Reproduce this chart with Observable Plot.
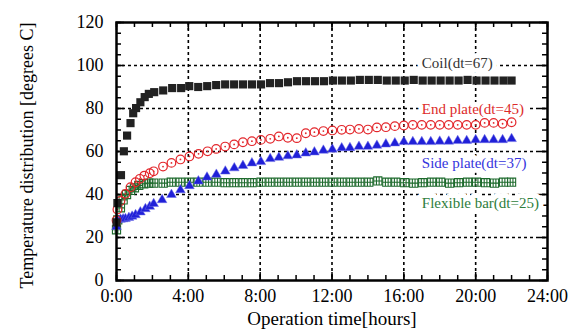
<!DOCTYPE html>
<html><head><meta charset="utf-8">
<script src="https://cdn.jsdelivr.net/npm/d3@7"></script>
<script src="https://cdn.jsdelivr.net/npm/@observablehq/plot@0.6"></script>
<style>body{margin:0;background:#fff} #chart{width:576px;height:333px}</style>
</head><body><div id="chart"></div>
<script>
// ---------- data ----------
const coilT = [0, 0.05, 0.25, 0.41, 0.59, 0.78, 0.93, 1.09, 1.33, 1.57, 1.8, 2.1, 2.6, 3.1, 3.6,
  4.05, 4.55, 5.05, 5.55, 6.05, 6.55, 7.05, 7.55, 8.05, 8.55, 9.05, 9.55, 10.05, 10.55, 11.05, 11.55,
  12.05, 12.55, 13.05, 13.55, 14.05, 14.55, 15.05, 15.55, 16.05, 16.55, 17.05, 17.55, 18.05, 18.55,
  19.05, 19.55, 20.05, 20.55, 21.05, 21.55, 22.0];
const coilV = [27, 36, 49, 60.1, 67.4, 73.2, 77.8, 80.2, 82.9, 85.3, 86.8, 87.6, 88.4, 89.5, 89.5,
  90.4, 90, 90.4, 90.9, 91.2, 91.2, 91.2, 91.2, 91.2, 91.8, 91.8, 92.2, 92.7, 92.7, 92.7, 92.7,
  93, 93, 93, 93.3, 93.3, 93.3, 93, 93, 93, 93.3, 93, 93, 93, 93,
  93, 93.3, 93, 93, 93, 93, 93];

const endT = [0, 0.05, 0.22, 0.5, 0.78, 1.06, 1.3, 1.55, 1.85, 2.07, 2.59, 3.06, 3.56, 4.06, 4.57, 5.07,
  5.55, 6.05, 6.55, 7.04, 7.54, 8.04, 8.56, 9.04, 9.54, 10.04, 10.54, 11.02, 11.52, 12.02, 12.54,
  13, 13.5, 14, 14.5, 15, 15.5, 16, 16.5, 17, 17.5, 18, 18.5, 19, 19.5, 20, 20.5, 21, 21.5, 22];
const endV = [28, 33, 37, 40.3, 43.4, 45.7, 47.3, 48.8, 49.9, 50.8, 53, 54.7, 56.3, 57.7, 58.9, 60.1,
  61.2, 62.3, 63.3, 64.3, 64.8, 65.4, 65.9, 67, 66.4, 66.2, 68.5, 69, 69.5, 69.8, 70.1,
  70.2, 70.5, 70.2, 71.2, 71.3, 71.8, 72.1, 72.4, 72.4, 72.4, 72.4, 72.4, 72.4, 72.4, 72.4, 73.3, 73.3, 72.9, 73.6];

const sideT = [0, 0.04, 0.22, 0.37, 0.5, 0.69, 0.87, 1.06, 1.33, 1.61, 1.85, 2.07,
  2.54, 3.06, 3.56, 4.06, 4.56, 5.04, 5.56, 6.06, 6.56, 7.04, 7.54, 8.04, 8.56, 9.04, 9.54, 10.04, 10.54, 11.02, 11.52, 12.02, 12.54,
  13, 13.5, 14, 14.5, 15, 15.5, 16, 16.5, 17, 17.5, 18, 18.5, 19, 19.5, 20, 20.5, 21, 21.5, 22];
const sideV = [25, 28.2, 28.4, 28.6, 28.7, 29.2, 29.8, 30.5, 31.8, 33.3, 34.4, 35.7,
  37.5, 39.9, 42.1, 44, 46.2, 48, 49.3, 50.8, 52.3, 53.4, 54.6, 55.2, 56.6, 57.2, 57.9, 58.3, 59.2, 59.7, 60.5, 61, 61.6,
  61.7, 62.3, 62.3, 62.8, 63.4, 63.9, 64.5, 64.5, 64.5, 64.5, 64.7, 64.7, 65, 65, 65.4, 65.4, 65.4, 65.4, 65.9];

const flexT = [0, 0.07, 0.22, 0.37, 0.56, 0.78, 1, 1.24, 1.52, 1.8, 2.07, 2.6,
  3.05, 3.55, 4.05, 4.55, 5.05, 5.55, 6.05, 6.55, 7.05, 7.55, 8.05, 8.55, 9.05, 9.55, 10.05, 10.55,
  11.05, 11.55, 12.05, 12.55, 13.05, 13.55, 14.05, 14.55, 15.05, 15.55, 16.05, 16.55, 17.05, 17.55,
  18.05, 18.55, 19.05, 19.55, 20.05, 20.55, 21.05, 21.55, 22];
const flexV = [23.6, 28.2, 33.8, 37.5, 40, 41.9, 43.1, 44.2, 45, 45.3, 45.3, 45.3,
  45.7, 45.7, 45.7, 45.7, 45.7, 45.7, 45.5, 45.5, 45.5, 45.5, 45.7, 45.7, 45.7, 45.7, 45.7, 45.7,
  45.7, 45.7, 45.7, 45.7, 45.7, 45.7, 45.7, 46.3, 45.7, 45.7, 45.5, 45.3, 45.5, 45.7,
  45.7, 45.3, 45.5, 45.7, 45.7, 45.5, 45.3, 45.7, 45.7];

const seriesNames = ["Coil(dt=67)", "End plate(dt=45)", "Side plate(dt=37)", "Flexible bar(dt=25)"];
const xTicks = [0, 4, 8, 12, 16, 20, 24];
const xTickLabels = ["0:00", "4:00", "8:00", "12:00", "16:00", "20:00", "24:00"];
const yTicks = [0, 20, 40, 60, 80, 100, 120];
const xTitle = "Operation time[hours]";
const yTitle = "Temperature distribution [degrees C]";

// ---------- rendering ----------
const toRows = (T, V) => T.map((t, i) => ({t, v: V[i]}));
const coil = toRows(coilT, coilV), endp = toRows(endT, endV), side = toRows(sideT, sideV), flex = toRows(flexT, flexV);

const W = 576, H = 333, mT = 22, mR = 29, mB = 53, mL = 116;
const frameH = H - mT - mB, frameW = W - mL - mR;
const xLab = new Map(xTicks.map((d, i) => [d, xTickLabels[i]]));

const colors = ["#222222", "#e3262b", "#2020d8", "#1d6a2c"];
const labelColors = ["#333333", "#dd2a2a", "#3535dd", "#2e7d3c"];
const labelAt = {x: 17, y: [100.9, 79.5, 54.4, 35.8]};
const labelRows = seriesNames.map((s, i) => ({s, i, y: labelAt.y[i]}));

const gridSquare = {
  draw(ctx, size) {
    const s = Math.sqrt(size) / 2;
    ctx.moveTo(-s, -s); ctx.lineTo(s, -s); ctx.lineTo(s, s); ctx.lineTo(-s, s); ctx.closePath();
    ctx.moveTo(-s, 0); ctx.lineTo(s, 0);
    ctx.moveTo(-s / 3, -s); ctx.lineTo(-s / 3, s);
    ctx.moveTo(s / 3, -s); ctx.lineTo(s / 3, s);
  }
};

const hours = d3.range(0, 25, 1);
const fives = d3.range(0, 121, 5);
const minorLen = 5, majorLen = 8;
const gridStyle = {stroke: "black", strokeOpacity: 1, strokeWidth: 1.6, strokeDasharray: "3,3"};

const chart = Plot.plot({
  width: W, height: H,
  marginTop: mT, marginRight: mR, marginBottom: mB, marginLeft: mL,
  style: {fontFamily: "Liberation Serif", fontSize: "18px", background: "white", color: "black"},
  x: {domain: [0, 24]},
  y: {domain: [0, 120]},
  marks: [
    // grid
    Plot.gridX(xTicks.slice(1, -1), gridStyle),
    Plot.gridY(yTicks.slice(1, -1), gridStyle),
    // inner ticks
    Plot.tickX(hours, {x: d => d, insetTop: frameH - minorLen, strokeWidth: 1.5}),
    Plot.tickX(hours, {x: d => d, insetBottom: frameH - minorLen, strokeWidth: 1.5}),
    Plot.tickX(xTicks, {x: d => d, insetTop: frameH - majorLen, strokeWidth: 1.5}),
    Plot.tickX(xTicks, {x: d => d, insetBottom: frameH - majorLen, strokeWidth: 1.5}),
    Plot.tickY(fives, {y: d => d, insetRight: frameW - minorLen, strokeWidth: 1.5}),
    Plot.tickY(fives, {y: d => d, insetLeft: frameW - minorLen, strokeWidth: 1.5}),
    Plot.tickY(yTicks, {y: d => d, insetRight: frameW - majorLen, strokeWidth: 1.5}),
    Plot.tickY(yTicks, {y: d => d, insetLeft: frameW - majorLen, strokeWidth: 1.5}),
    // axes labels
    Plot.axisX(xTicks, {anchor: "bottom", tickSize: 0, tickPadding: 9, fontSize: 18, tickFormat: d => xLab.get(d), label: null}),
    Plot.axisY(yTicks, {anchor: "left", tickSize: 0, tickPadding: 13, fontSize: 18, label: null}),
    Plot.text([xTitle], {frameAnchor: "bottom", dy: 44, fontSize: 19, text: d => d}),
    Plot.text([yTitle], {frameAnchor: "left", textAnchor: "middle", dx: -89, dy: 4, rotate: -90, fontSize: 18, text: d => d}),
    // series labels with white background
    Plot.text(labelRows, {x: () => labelAt.x, y: "y", text: "s", textAnchor: "start", fontSize: 15,
      fill: d => labelColors[d.i], stroke: "white", strokeWidth: 10, paintOrder: "stroke", strokeLinejoin: "round"}),
    // data
    Plot.dot(flex, {x: "t", y: "v", symbol: gridSquare, r: 4.6, stroke: colors[3], strokeWidth: 1.1, fill: "none"}),
    Plot.dot(side, {x: "t", y: "v", symbol: "triangle", r: 3.6, fill: colors[2], stroke: "#6f6fe8", strokeWidth: 0.5}),
    Plot.dot(endp, {x: "t", y: "v", r: 4.3, stroke: colors[1], strokeWidth: 1.2, fill: "none"}),
    Plot.dot(endp, {x: "t", y: "v", r: 0.9, fill: colors[1]}),
    Plot.dot(coil, {x: "t", y: "v", symbol: "square", r: 4.6, fill: colors[0]}),
    Plot.frame({stroke: "black", strokeWidth: 2.5})
  ]
});
document.getElementById("chart").append(chart);
</script>
</body></html>
